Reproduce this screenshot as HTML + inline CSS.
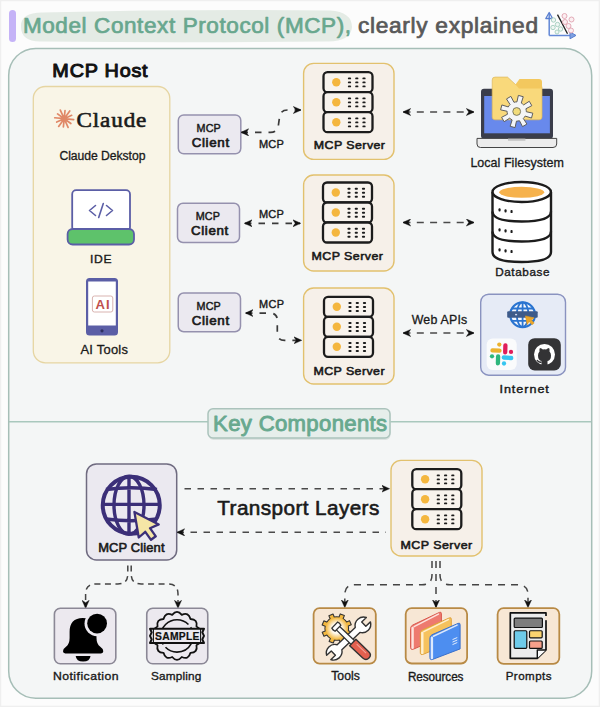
<!DOCTYPE html>
<html><head><meta charset="utf-8">
<style>
html,body{margin:0;padding:0;background:#fcfcfc;}
body{width:600px;height:707px;overflow:hidden;}
svg{display:block;}
</style></head><body>
<svg width="600" height="707" viewBox="0 0 600 707">
<defs>
  <marker id="ah" viewBox="0 0 10 10" refX="9" refY="5" markerWidth="8" markerHeight="8" orient="auto-start-reverse" markerUnits="userSpaceOnUse">
    <path d="M0,0.5 L10,5 L0,9.5 L3,5 Z" fill="#111" stroke="#111" stroke-width="0.5" stroke-linejoin="round"/>
  </marker>
  <g id="srv">
    <rect x="0" y="0" width="49" height="20" rx="4" fill="#f8f3ed" stroke="#1c1c1c" stroke-width="2.3"/>
    <circle cx="12.8" cy="10" r="4.2" fill="#f4b63e"/>
    <g fill="#1c1c1c">

      <rect x="24.40" y="5.25" width="3.2" height="1.9" rx="0.9"/>
      <rect x="24.40" y="9.25" width="3.2" height="1.9" rx="0.9"/>
      <rect x="24.40" y="13.25" width="3.2" height="1.9" rx="0.9"/>
      <rect x="31.70" y="5.25" width="3.2" height="1.9" rx="0.9"/>
      <rect x="31.70" y="9.25" width="3.2" height="1.9" rx="0.9"/>
      <rect x="31.70" y="13.25" width="3.2" height="1.9" rx="0.9"/>
      <rect x="38.90" y="5.25" width="3.2" height="1.9" rx="0.9"/>
      <rect x="38.90" y="9.25" width="3.2" height="1.9" rx="0.9"/>
      <rect x="38.90" y="13.25" width="3.2" height="1.9" rx="0.9"/>
    </g>
  </g>
  <g id="server">
    <use href="#srv" x="0" y="0"/>
    <use href="#srv" x="0" y="20"/>
    <use href="#srv" x="0" y="40"/>
  </g>
</defs>
<rect x="0.5" y="0.5" width="599" height="706" fill="none" stroke="#efefef" stroke-width="1.5"/>

<rect x="9" y="10" width="7" height="32" rx="3.5" fill="#c5b3f7"/>
<path d="M21,27 Q20,13 42,12.5 Q190,9 330,10.5 Q352,12 352,27 Q351,41 328,41.5 Q190,43 40,41.5 Q21,41 21,27 Z" fill="#e4ebe5"/>
<text transform="translate(22.93,33.40) scale(1.0534,1)" x="0" y="0" style="font-family:'Liberation Sans',sans-serif;font-weight:normal" font-size="21.37" fill="#68a78e" stroke="#68a78e" stroke-width="0.7" stroke-linejoin="round" textLength="311.50" lengthAdjust="spacing" >Model Context Protocol (MCP),</text>
<text transform="translate(357.93,33.40) scale(1.0638,1)" x="0" y="0" style="font-family:'Liberation Sans',sans-serif;font-weight:normal" font-size="21.37" fill="#595959" stroke="#595959" stroke-width="0.7" stroke-linejoin="round" textLength="169.33" lengthAdjust="spacing" >clearly explained</text>
<g>
  <path d="M549.2,35.4 L549.2,13.5 M575,35.4 L549.2,35.4" stroke="#6388d6" stroke-width="1.5" fill="none"/>
  <path d="M545.8,18.5 L549.2,12.5 L552.6,18.5 Z" fill="none" stroke="#5a7fd0" stroke-width="1.3" stroke-linejoin="round"/>
  <path d="M570,32 L576,35.4 L570,38.8 Z" fill="#7ea0e0" stroke="#5a7fd0" stroke-width="1" stroke-linejoin="round"/>
  <path d="M557.5,14.6 L567.5,33.7" stroke="#222" stroke-width="1.3"/>
  <g fill="#eef6f2" stroke="#a3cdbd" stroke-width="0.9">
    <circle cx="553.5" cy="20" r="2.2"/><circle cx="557.5" cy="24.5" r="2.2"/><circle cx="553" cy="27.5" r="2.2"/><circle cx="560.5" cy="29" r="2.2"/><circle cx="557" cy="32" r="2"/>
  </g>
  <g fill="#fbeef1" stroke="#e0a3b0" stroke-width="0.9">
    <circle cx="564.5" cy="16" r="2.5"/><circle cx="571.5" cy="19.5" r="2.5"/><circle cx="565" cy="22" r="2.5"/><circle cx="568.5" cy="26" r="2.5"/><circle cx="571" cy="30.5" r="2.5"/>
  </g>
</g>
<rect x="8.7" y="48.4" width="583" height="649.8" rx="27" fill="#f4f6f6" stroke="#a6beb7" stroke-width="1.5"/>
<text transform="translate(52.36,76.70) scale(1.0591,1)" x="0" y="0" style="font-family:'Liberation Sans',sans-serif;font-weight:normal" font-size="18.72" fill="#111" stroke="#111" stroke-width="1.0" stroke-linejoin="round" textLength="89.95" lengthAdjust="spacing" >MCP Host</text>
<rect x="33.3" y="86.5" width="136.5" height="276.3" rx="12" fill="#f9f5e7" stroke="#e6d5a2" stroke-width="1.3"/>
<g transform="translate(64.2,118.7)" stroke="#e08867" stroke-width="1.7" stroke-linecap="round"><path d="M0,0 L9.45,0.95 M0,0 L6.66,4.79 M0,0 L3.90,8.66 M0,0 L-0.82,8.16 M0,0 L-5.55,7.71 M0,0 L-7.48,3.37 M0,0 L-9.45,-0.95 M0,0 L-6.66,-4.79 M0,0 L-3.90,-8.66 M0,0 L0.82,-8.16 M0,0 L5.55,-7.71 M0,0 L7.48,-3.37"/></g>
<text transform="translate(76.42,126.70) scale(1.0674,1)" x="0" y="0" style="font-family:'Liberation Serif',serif;font-weight:normal" font-size="21.68" fill="#1a1a1a" stroke="#1a1a1a" stroke-width="0.6" stroke-linejoin="round" textLength="65.55" lengthAdjust="spacing" >Claude</text>
<text transform="translate(59.39,159.90) scale(0.9918,1)" x="0" y="0" style="font-family:'Liberation Sans',sans-serif;font-weight:normal" font-size="12.29" fill="#1a1a1a" stroke="#1a1a1a" stroke-width="0.3" stroke-linejoin="round" textLength="86.74" lengthAdjust="spacing" >Claude Dekstop</text>
<rect x="72.2" y="190.2" width="57.8" height="41" rx="4" fill="#fff" stroke="#5b5ea6" stroke-width="1.8"/>
<path d="M95.5,205.5 L89.5,210.5 L95.5,215.5 M106.5,205.5 L112.5,210.5 L106.5,215.5 M103.3,203.5 L98.7,217.5" fill="none" stroke="#5b5ea6" stroke-width="1.6" stroke-linecap="round" stroke-linejoin="round"/>
<rect x="67.6" y="229" width="66.4" height="15.5" rx="5" fill="#5ec26b" stroke="#5b5ea6" stroke-width="1.8"/>
<text transform="translate(89.93,262.80) scale(1.0710,1)" x="0" y="0" style="font-family:'Liberation Sans',sans-serif;font-weight:normal" font-size="11.31" fill="#1a1a1a" stroke="#1a1a1a" stroke-width="0.35" stroke-linejoin="round" textLength="20.20" lengthAdjust="spacing" >IDE</text>
<rect x="86" y="278" width="32" height="57.4" rx="3.5" fill="#5b5ea6"/>
<rect x="88.2" y="281.5" width="27.6" height="44" fill="#fff"/>
<circle cx="102" cy="330.8" r="1.6" fill="#2e2f60"/>
<rect x="92.4" y="296" width="20.4" height="16" rx="2" fill="#fff" stroke="#d9b3b0" stroke-width="1"/>
<text transform="translate(95.40,308.60) scale(1.0873,1)" x="0" y="0" style="font-family:'Liberation Sans',sans-serif;font-weight:bold" font-size="12.01" fill="#c0504d" textLength="13.06" lengthAdjust="spacing" >AI</text>
<text transform="translate(80.38,354.20) scale(1.0396,1)" x="0" y="0" style="font-family:'Liberation Sans',sans-serif;font-weight:normal" font-size="12.43" fill="#1a1a1a" stroke="#1a1a1a" stroke-width="0.3" stroke-linejoin="round" textLength="45.73" lengthAdjust="spacing" >AI Tools</text>
<rect x="178.3" y="114.9" width="62.5" height="38.9" rx="5.5" fill="#ebe9f0" stroke="#9591ae" stroke-width="1.5"/>
<rect x="177.5" y="203.25" width="62" height="39.25" rx="5.5" fill="#ebe9f0" stroke="#9591ae" stroke-width="1.5"/>
<rect x="178.25" y="293" width="62.25" height="38.75" rx="5.5" fill="#ebe9f0" stroke="#9591ae" stroke-width="1.5"/>
<text transform="translate(196.47,131.60) scale(1.0163,1)" x="0" y="0" style="font-family:'Liberation Sans',sans-serif;font-weight:normal" font-size="10.61" fill="#1a1a1a" stroke="#1a1a1a" stroke-width="0.45" stroke-linejoin="round" textLength="23.97" lengthAdjust="spacing" >MCP</text>
<text transform="translate(191.69,146.75) scale(1.0944,1)" x="0" y="0" style="font-family:'Liberation Sans',sans-serif;font-weight:normal" font-size="12.22" fill="#1a1a1a" stroke="#1a1a1a" stroke-width="0.65" stroke-linejoin="round" textLength="34.19" lengthAdjust="spacing" >Client</text>
<text transform="translate(195.67,220.00) scale(1.0163,1)" x="0" y="0" style="font-family:'Liberation Sans',sans-serif;font-weight:normal" font-size="10.61" fill="#1a1a1a" stroke="#1a1a1a" stroke-width="0.45" stroke-linejoin="round" textLength="23.97" lengthAdjust="spacing" >MCP</text>
<text transform="translate(190.89,235.00) scale(1.0944,1)" x="0" y="0" style="font-family:'Liberation Sans',sans-serif;font-weight:normal" font-size="12.22" fill="#1a1a1a" stroke="#1a1a1a" stroke-width="0.65" stroke-linejoin="round" textLength="34.19" lengthAdjust="spacing" >Client</text>
<text transform="translate(196.47,309.50) scale(1.0163,1)" x="0" y="0" style="font-family:'Liberation Sans',sans-serif;font-weight:normal" font-size="10.61" fill="#1a1a1a" stroke="#1a1a1a" stroke-width="0.45" stroke-linejoin="round" textLength="23.97" lengthAdjust="spacing" >MCP</text>
<text transform="translate(191.69,325.00) scale(1.0944,1)" x="0" y="0" style="font-family:'Liberation Sans',sans-serif;font-weight:normal" font-size="12.22" fill="#1a1a1a" stroke="#1a1a1a" stroke-width="0.65" stroke-linejoin="round" textLength="34.19" lengthAdjust="spacing" >Client</text>
<g fill="none" stroke="#3a3a3a" stroke-width="1.7" stroke-dasharray="6.5 7">
<path d="M241.5,132.3 L270.5,132.3 Q278,132.3 278.5,124.5 L279.5,117.5 Q280.2,110 287.5,110 L300.5,110" marker-start="url(#ah)" marker-end="url(#ah)"/>
<path d="M245,223.3 L300,223.3" marker-start="url(#ah)" marker-end="url(#ah)"/>
<path d="M246,313.1 L270,313.1 Q277.3,313.1 277.3,320.4 L277.3,333 Q277.3,340.35 284.6,340.35 L301,340.35" marker-start="url(#ah)" marker-end="url(#ah)"/>
</g>
<text transform="translate(258.96,148.00) scale(1.0119,1)" x="0" y="0" style="font-family:'Liberation Sans',sans-serif;font-weight:normal" font-size="10.89" fill="#1a1a1a" stroke="#1a1a1a" stroke-width="0.4" stroke-linejoin="round" textLength="24.50" lengthAdjust="spacing" >MCP</text>
<text transform="translate(258.96,217.50) scale(1.0119,1)" x="0" y="0" style="font-family:'Liberation Sans',sans-serif;font-weight:normal" font-size="10.89" fill="#1a1a1a" stroke="#1a1a1a" stroke-width="0.4" stroke-linejoin="round" textLength="24.50" lengthAdjust="spacing" >MCP</text>
<text transform="translate(258.97,307.90) scale(1.0287,1)" x="0" y="0" style="font-family:'Liberation Sans',sans-serif;font-weight:normal" font-size="10.61" fill="#1a1a1a" stroke="#1a1a1a" stroke-width="0.4" stroke-linejoin="round" textLength="24.27" lengthAdjust="spacing" >MCP</text>
<rect x="303.6" y="63.4" width="90.4" height="96" rx="10" fill="#f6f0e9" stroke="#e2c16e" stroke-width="1.4"/>
<rect x="303.6" y="175" width="90.4" height="96" rx="10" fill="#f6f0e9" stroke="#e2c16e" stroke-width="1.4"/>
<rect x="303.6" y="288" width="90.4" height="96" rx="10" fill="#f6f0e9" stroke="#e2c16e" stroke-width="1.4"/>
<use href="#server" x="323.5" y="72.2"/>
<use href="#server" x="323" y="182.5"/>
<use href="#server" x="324" y="296.8"/>
<text transform="translate(313.81,149.40) scale(1.0572,1)" x="0" y="0" style="font-family:'Liberation Sans',sans-serif;font-weight:normal" font-size="11.73" fill="#1a1a1a" stroke="#1a1a1a" stroke-width="0.6" stroke-linejoin="round" textLength="67.32" lengthAdjust="spacing" >MCP Server</text>
<text transform="translate(311.41,260.20) scale(1.0602,1)" x="0" y="0" style="font-family:'Liberation Sans',sans-serif;font-weight:normal" font-size="11.73" fill="#1a1a1a" stroke="#1a1a1a" stroke-width="0.6" stroke-linejoin="round" textLength="67.51" lengthAdjust="spacing" >MCP Server</text>
<text transform="translate(313.41,375.20) scale(1.0572,1)" x="0" y="0" style="font-family:'Liberation Sans',sans-serif;font-weight:normal" font-size="11.73" fill="#1a1a1a" stroke="#1a1a1a" stroke-width="0.6" stroke-linejoin="round" textLength="67.32" lengthAdjust="spacing" >MCP Server</text>
<g fill="none" stroke="#4a4a4a" stroke-width="1.7" stroke-dasharray="7 6.3">
<path d="M403.5,112 L410.5,112 L473.5,112" marker-start="url(#ah)" marker-end="url(#ah)" stroke-dashoffset="0"/>
<path d="M403.5,222.5 L410.5,222.5 L473.5,222.5" marker-start="url(#ah)" marker-end="url(#ah)" stroke-dashoffset="0"/>
<path d="M403.5,333 L410.5,333 L473.5,333" marker-start="url(#ah)" marker-end="url(#ah)" stroke-dashoffset="0"/>
</g>
<text transform="translate(411.70,324.00) scale(1.0289,1)" x="0" y="0" style="font-family:'Liberation Sans',sans-serif;font-weight:normal" font-size="12.01" fill="#1a1a1a" stroke="#1a1a1a" stroke-width="0.3" stroke-linejoin="round" textLength="54.04" lengthAdjust="spacing" >Web APIs</text>
<rect x="481" y="88.7" width="72" height="50" rx="3" fill="#3a3d4a"/>
<rect x="484.2" y="96" width="65.7" height="37.3" fill="#6889ec"/>
<path d="M477,138.4 L556.7,138.4 L556.7,144 Q556.7,147.5 553,147.5 L480.5,147.5 Q477,147.5 477,144 Z" fill="#ececec" stroke="#444" stroke-width="1"/>
<rect x="508" y="138.6" width="17.4" height="2.2" fill="#c4c4c4"/>
<path d="M492.2,80 Q492.2,77.1 495,77.1 L507.5,77.1 L515.5,84.5 L539,84.5 Q542,84.5 542,87.5 L542,117 Q542,119.8 539,119.8 L495,119.8 Q492.2,119.8 492.2,117 Z" fill="#f9d97b" stroke="#dcb75e" stroke-width="0.7"/>
<path d="M515.5,84.5 L519.5,79 L539,79 Q542,79 542,82 L542,88.5 L519,88.5 Z" fill="#f3c85e"/>
<g transform="translate(516.7,111.5)">
  <path d="M-1.27,-9.52 L0.23,-9.60 L1.66,-16.11 L6.56,-14.81 L4.57,-8.44 L5.83,-7.63 L6.95,-6.62 L12.57,-10.22 L15.11,-5.83 L9.20,-2.74 L9.52,-1.27 L9.60,0.23 L16.11,1.66 L14.81,6.56 L8.44,4.57 L7.63,5.83 L6.62,6.95 L10.22,12.57 L5.83,15.11 L2.74,9.20 L1.27,9.52 L-0.23,9.60 L-1.66,16.11 L-6.56,14.81 L-4.57,8.44 L-5.83,7.63 L-6.95,6.62 L-12.57,10.22 L-15.11,5.83 L-9.20,2.74 L-9.52,1.27 L-9.60,-0.23 L-16.11,-1.66 L-14.81,-6.56 L-8.44,-4.57 L-7.63,-5.83 L-6.62,-6.95 L-10.22,-12.57 L-5.83,-15.11 L-2.74,-9.20 Z" fill="#f4f5f6" stroke="#5f5f5f" stroke-width="1" stroke-linejoin="round"/>
  <circle r="3.9" fill="#f2dc7a" stroke="#6f6f5f" stroke-width="0.9"/>
</g>
<text transform="translate(470.38,167.30) scale(1.0053,1)" x="0" y="0" style="font-family:'Liberation Sans',sans-serif;font-weight:normal" font-size="12.43" fill="#1a1a1a" stroke="#1a1a1a" stroke-width="0.3" stroke-linejoin="round" textLength="93.05" lengthAdjust="spacing" >Local Filesystem</text>
<g fill="none" stroke="#1c1c1c" stroke-width="2.4">
  <path d="M492.5,192 L492.5,252 Q492.5,262 521.7,262 Q551,262 551,252 L551,192" fill="#fff"/>
  <path d="M492.5,211.5 Q492.5,221.5 521.7,221.5 Q551,221.5 551,211.5"/>
  <path d="M492.5,231.5 Q492.5,241.5 521.7,241.5 Q551,241.5 551,231.5"/>
  <ellipse cx="521.7" cy="192" rx="29.2" ry="10" fill="#fff"/>
</g>
<ellipse cx="521.7" cy="192.3" rx="22.5" ry="5.5" fill="#f6b24c"/>
<g fill="#1c1c1c">
<rect x="498.5" y="208.3" width="2.1" height="3.2" rx="0.9"/>
<rect x="504.5" y="209.3" width="2.1" height="3.2" rx="0.9"/>
<rect x="510.5" y="209.9" width="2.1" height="3.2" rx="0.9"/>
<rect x="498.5" y="228.3" width="2.1" height="3.2" rx="0.9"/>
<rect x="504.5" y="229.3" width="2.1" height="3.2" rx="0.9"/>
<rect x="510.5" y="229.9" width="2.1" height="3.2" rx="0.9"/>
<rect x="498.5" y="248.3" width="2.1" height="3.2" rx="0.9"/>
<rect x="504.5" y="249.3" width="2.1" height="3.2" rx="0.9"/>
<rect x="510.5" y="249.9" width="2.1" height="3.2" rx="0.9"/>
</g>
<text transform="translate(495.16,276.00) scale(1.0799,1)" x="0" y="0" style="font-family:'Liberation Sans',sans-serif;font-weight:normal" font-size="10.89" fill="#1a1a1a" stroke="#1a1a1a" stroke-width="0.35" stroke-linejoin="round" textLength="50.36" lengthAdjust="spacing" >Database</text>
<rect x="480.7" y="294.2" width="84.8" height="81" rx="8" fill="#e6ebf6" stroke="#8a93c0" stroke-width="1.4"/>
<g transform="translate(522.6,314.7)">
  <circle r="12.4" fill="#f4f7fd" stroke="#2a74d0" stroke-width="2.2"/>
  <ellipse rx="5.8" ry="12.4" fill="none" stroke="#2a74d0" stroke-width="1.8"/>
  <path d="M0,-12.4 L0,12.4 M-12.4,0 L12.4,0 M-10.8,-6.2 L10.8,-6.2 M-10.8,6.2 L10.8,6.2" stroke="#2a74d0" stroke-width="1.8"/>
  <rect x="-15.4" y="-3.4" width="30.5" height="6.5" rx="1" fill="#3e5b8a"/>
  <rect x="-7.5" y="-0.8" width="2" height="1.4" fill="#cfd8ee"/>
  <path d="M2.8,1.2 L11.5,3.2 L8.8,5.3 L11.6,8.4 L9.4,10 L6.6,6.9 L4.6,9.8 Z" fill="#eaa62a" stroke="#e39a1c" stroke-width="0.6" stroke-linejoin="round"/>
</g>
<rect x="486.7" y="338.5" width="30" height="31.5" rx="6" fill="#fafbfc"/>
<g stroke-linecap="round" stroke-width="4.3" fill="none">
  <path d="M492.5,350.3 L499.5,350.7" stroke="#ecb22e"/>
  <path d="M499.3,344.6 L499.3,344.6" stroke="#ecb22e"/>
  <path d="M505.4,345.3 L505.2,352.3" stroke="#e01e5a"/>
  <path d="M511,351.9 L511,351.9" stroke="#e01e5a"/>
  <path d="M498.1,356.5 L497.9,363.3" stroke="#2eb67d"/>
  <path d="M492,356.3 L492,356.3" stroke="#2eb67d"/>
  <path d="M503.8,357.5 L511.2,358" stroke="#36c5f0"/>
  <path d="M504,363.5 L504,363.5" stroke="#36c5f0"/>
</g>
<rect x="528.2" y="338.2" width="32.6" height="32.3" rx="6.5" fill="#333335"/>
<g transform="translate(544.5,354.5)">
  <circle r="10.5" fill="#fff"/>
  <path d="M-3,10.5 L-3,6.5 Q-6.5,5.8 -6.5,1 Q-6.5,-1.3 -5,-3 Q-5.4,-5 -4.6,-6.5 Q-3,-6.5 -1.6,-5 Q0,-5.5 1.6,-5 Q3,-6.5 4.6,-6.5 Q5.4,-5 5,-3 Q6.5,-1.3 6.5,1 Q6.5,5.8 3,6.5 L3,10.5 Z" fill="#333335"/>
  <path d="M-3,7.5 Q-6,8.2 -7.5,5.5" stroke="#333335" stroke-width="1.5" fill="none"/>
</g>
<text transform="translate(499.46,392.70) scale(1.1562,1)" x="0" y="0" style="font-family:'Liberation Sans',sans-serif;font-weight:normal" font-size="10.89" fill="#1a1a1a" stroke="#1a1a1a" stroke-width="0.4" stroke-linejoin="round" textLength="42.72" lengthAdjust="spacing" >Internet</text>
<path d="M9,421.7 L208,421.7 M390,421.7 L591,421.7" stroke="#a9c8bd" stroke-width="1.4"/>
<rect x="208.5" y="410.2" width="182" height="29.8" rx="5" fill="#dde3e1"/>
<rect x="208" y="408.7" width="182" height="29.3" rx="5" fill="#e6eeeb" stroke="#abc3bc" stroke-width="1.5"/>
<text transform="translate(213.12,430.80) scale(1.0235,1)" x="0" y="0" style="font-family:'Liberation Sans',sans-serif;font-weight:normal" font-size="21.65" fill="#68a98f" stroke="#68a98f" stroke-width="0.9" stroke-linejoin="round" textLength="169.97" lengthAdjust="spacing" >Key Components</text>
<rect x="86.5" y="463.9" width="90.2" height="96" rx="10" fill="#ebe9f0" stroke="#6f6b80" stroke-width="1.5"/>
<circle cx="131.25" cy="505.3" r="28.5" fill="none" stroke="#3b2f78" stroke-width="4"/>
<g fill="none" stroke="#3b2f78" stroke-width="3.4">
  <ellipse cx="129" cy="505.3" rx="15" ry="29"/>
  <path d="M129,476.5 L129,534 M103,504.4 L160,504.4 M106,489.5 Q131,486 157,489.5 M106,519 Q131,522.5 157,519"/>
</g>
<path d="M134.4,511.9 L158.75,524.4 L150,528.2 L155.8,536.3 L151,539.8 L145.3,531.8 L138.75,537.5 Z" fill="#f5e6a6" stroke="#3b2f78" stroke-width="2.3" stroke-linejoin="round"/>
<text transform="translate(98.16,551.90) scale(1.0180,1)" x="0" y="0" style="font-family:'Liberation Sans',sans-serif;font-weight:normal" font-size="12.71" fill="#1a1a1a" stroke="#1a1a1a" stroke-width="0.6" stroke-linejoin="round" textLength="65.20" lengthAdjust="spacing" >MCP Client</text>
<g fill="none" stroke="#4a4a4a" stroke-width="1.5" stroke-dasharray="6.5 6.5">
<path d="M184.5,488.7 L388.8,488.7" marker-end="url(#ah)"/>
<path d="M177.5,532.3 L386,532.3" marker-start="url(#ah)"/>
</g>
<text transform="translate(217.30,515.00) scale(1.0384,1)" x="0" y="0" style="font-family:'Liberation Sans',sans-serif;font-weight:normal" font-size="19.97" fill="#1a1a1a" stroke="#1a1a1a" stroke-width="0.6" stroke-linejoin="round" textLength="156.00" lengthAdjust="spacing" >Transport Layers</text>
<rect x="391" y="460.4" width="91" height="95.6" rx="10" fill="#f6f0e9" stroke="#e2c16e" stroke-width="1.4"/>
<use href="#server" x="412.3" y="469.2"/>
<text transform="translate(400.41,549.00) scale(1.0617,1)" x="0" y="0" style="font-family:'Liberation Sans',sans-serif;font-weight:normal" font-size="11.73" fill="#1a1a1a" stroke="#1a1a1a" stroke-width="0.6" stroke-linejoin="round" textLength="67.60" lengthAdjust="spacing" >MCP Server</text>
<g fill="none" stroke="#444" stroke-width="1.5" stroke-dasharray="6 4.5">
<path d="M127.8,565.5 L127.8,574 Q127.8,584 117.8,584 L95.6,584 Q85.6,584 85.6,594 L85.6,607.5" marker-end="url(#ah)"/>
<path d="M131.2,565.5 L131.2,574 Q131.2,584 141.2,584 L168,584 Q178,584 178,594 L178,607.5" marker-end="url(#ah)"/>
</g>
<g fill="none" stroke="#444" stroke-width="1.5" stroke-dasharray="7 6">
<path d="M432,561 L432,575 Q432,584.8 422,584.8 L354.8,584.8 Q344.8,584.8 344.8,594.5 L344.8,607" marker-end="url(#ah)"/>
<path d="M436,561 L436,607" marker-end="url(#ah)"/>
<path d="M440,561 L440,575 Q440,584.8 450,584.8 L518,584.8 Q528,584.8 528,594.5 L528,607" marker-end="url(#ah)"/>
</g>
<g fill="#ece9ef" stroke="#8b8896" stroke-width="1.6">
  <rect x="54.4" y="608.2" width="61.4" height="55.6" rx="6"/>
  <rect x="146.75" y="608.2" width="61" height="55.6" rx="6"/>
</g>
<path d="M63,651.3 Q63,648.8 66,646.8 Q69.6,644 69.6,638 L69.6,632 Q69.6,618 82.8,618 Q96.5,618 96.5,632 L96.5,638 Q96.5,644 100.3,646.8 Q103.3,648.8 103.3,651.3 Q103.3,653.4 101,653.4 L65.3,653.4 Q63,653.4 63,651.3 Z" fill="#000"/>
<path d="M75.7,656 L90.5,656 Q90,661.5 83.1,661.5 Q76.2,661.5 75.7,656 Z" fill="#000"/>
<circle cx="97.1" cy="623.6" r="12.6" fill="#ece9ef"/>
<circle cx="97.1" cy="623.6" r="9.9" fill="#000"/>
<g transform="translate(177,635.9)">
  <path d="M4.81,-21.06 Q11.63,-24.15 13.47,-16.89 Q20.95,-16.71 19.46,-9.37 Q26.13,-5.96 21.60,0.00 Q26.13,5.96 19.46,9.37 Q20.95,16.71 13.47,16.89 Q11.63,24.15 4.81,21.06 Q0.00,26.80 -4.81,21.06 Q-11.63,24.15 -13.47,16.89 Q-20.95,16.71 -19.46,9.37 Q-26.13,5.96 -21.60,0.00 Q-26.13,-5.96 -19.46,-9.37 Q-20.95,-16.71 -13.47,-16.89 Q-11.63,-24.15 -4.81,-21.06 Q-0.00,-26.80 4.81,-21.06 Z" fill="#ece9ef" stroke="#111" stroke-width="1.8" stroke-linejoin="round"/>
  <circle r="16.2" fill="none" stroke="#111" stroke-width="1.6" stroke-dasharray="30 3.5 47 3.5" stroke-dashoffset="-8"/>
  <path d="M-27,-7.1 L27,-7.1 L25.3,-3.5 L27,0 L25.3,3.5 L27,7.1 L-27,7.1 L-25.3,3.5 L-27,0 L-25.3,-3.5 Z" fill="#ece9ef" stroke="#111" stroke-width="2" stroke-linejoin="round"/>
  <path d="M-23.6,-7 L-23.6,7 M23.6,-7 L23.6,7" fill="none" stroke="#111" stroke-width="1.1"/>
</g>
<text transform="translate(155.00,639.55) scale(1.0341,1)" x="0" y="0" style="font-family:'Liberation Sans',sans-serif;font-weight:bold" font-size="9.99" fill="#111" stroke="#111" stroke-width="0.2" stroke-linejoin="round" textLength="43.03" lengthAdjust="spacing" >SAMPLE</text>
<text transform="translate(52.93,679.60) scale(1.0829,1)" x="0" y="0" style="font-family:'Liberation Sans',sans-serif;font-weight:normal" font-size="11.31" fill="#1a1a1a" stroke="#1a1a1a" stroke-width="0.35" stroke-linejoin="round" textLength="60.60" lengthAdjust="spacing" >Notification</text>
<text transform="translate(151.12,680.00) scale(1.0188,1)" x="0" y="0" style="font-family:'Liberation Sans',sans-serif;font-weight:normal" font-size="11.59" fill="#1a1a1a" stroke="#1a1a1a" stroke-width="0.35" stroke-linejoin="round" textLength="49.24" lengthAdjust="spacing" >Sampling</text>
<g fill="#f7e7d5" stroke="#b88a45" stroke-width="1.8">
  <rect x="313.6" y="608.1" width="62.2" height="55.6" rx="6"/>
  <rect x="405.7" y="608.1" width="61.4" height="55.4" rx="6"/>
  <rect x="497.6" y="608.2" width="61.7" height="55.6" rx="6"/>
</g>
<defs><radialGradient id="gg"><stop offset="0.45" stop-color="#fffaf0"/><stop offset="1" stop-color="#f3b840"/></radialGradient></defs>
<g transform="translate(336.75,628.5)">
  <path d="M10.90,-4.52 L11.59,-2.21 L14.83,-2.23 L14.83,2.23 L11.59,2.21 L10.90,4.52 L9.76,6.63 L12.07,8.91 L8.91,12.07 L6.63,9.76 L4.52,10.90 L2.21,11.59 L2.23,14.83 L-2.23,14.83 L-2.21,11.59 L-4.52,10.90 L-6.63,9.76 L-8.91,12.07 L-12.07,8.91 L-9.76,6.63 L-10.90,4.52 L-11.59,2.21 L-14.83,2.23 L-14.83,-2.23 L-11.59,-2.21 L-10.90,-4.52 L-9.76,-6.63 L-12.07,-8.91 L-8.91,-12.07 L-6.63,-9.76 L-4.52,-10.90 L-2.21,-11.59 L-2.23,-14.83 L2.23,-14.83 L2.21,-11.59 L4.52,-10.90 L6.63,-9.76 L8.91,-12.07 L12.07,-8.91 L9.76,-6.63 Z" transform="rotate(22)" fill="#f3b840" stroke="#333" stroke-width="1.1" stroke-linejoin="round"/>
  <circle r="11" fill="url(#gg)"/>
</g>
<g transform="translate(348.55,638.6) rotate(-43.6)">
  <path d="M-12.5,-3.4 L12.5,-3.4 A8.6 8.6 0 0 1 27.4,-3 L21,-3 L21,3 L27.4,3 A8.6 8.6 0 0 1 12.5,3.4 L-12.5,3.4 A8.6 8.6 0 0 1 -27.4,3 L-21,3 L-21,-3 L-27.4,-3 A8.6 8.6 0 0 1 -12.5,-3.4 Z" fill="#fff" stroke="#333" stroke-width="1.4" stroke-linejoin="round"/>
</g>
<g transform="translate(336.2,626.5) rotate(43.9)">
  <path d="M0,-2.3 L25,-2.6 L25,2.6 L0,2.3 Z" fill="#fff" stroke="#333" stroke-width="1.3" stroke-linejoin="round"/>
  <path d="M-2,-4.2 Q0,-5 2.5,-4.2 L2.5,4.2 Q0,5 -2,4.2 Z" fill="#fff" stroke="#333" stroke-width="1.3"/>
  <path d="M23,-4.5 L41,-4.3 Q45.5,-4.3 45.5,0 Q45.5,4.3 41,4.3 L23,4.5 Z" fill="#e3604f" stroke="#333" stroke-width="1.4" stroke-linejoin="round"/>
  <path d="M27,-1.5 L40,-1.5" stroke="#f2a59a" stroke-width="1"/>
</g>
<g stroke-linejoin="round">
<path d="M410.6,628.5 Q410.6,626 412.8,625 L439.4,612.4 Q441.4,611.5 441.4,613.7 L441.4,637 L413.6,649.0999999999999 Q410.6,650.3 410.6,647.3 Z" fill="#ee7a6f" stroke="#d8574c" stroke-width="1"/>
<path d="M412.6,628 L412.6,647.8" stroke="#fde3de" stroke-width="2.4" stroke-linecap="round"/>
<path d="M414.1,626.6 L438.4,614.1" stroke="#fde3de" stroke-width="1.5" stroke-linecap="round"/>
<path d="M420.3,633.5 Q420.3,631 422.5,630 L449.3,617.9 Q451.3,617 451.3,619.2 L451.3,642.5 L423.3,654.3 Q420.3,655.5 420.3,652.5 Z" fill="#f6c25d" stroke="#dfa23c" stroke-width="1"/>
<path d="M422.3,633 L422.3,653.0" stroke="#fff0cf" stroke-width="2.4" stroke-linecap="round"/>
<path d="M423.8,631.6 L448.3,619.6" stroke="#fff0cf" stroke-width="1.5" stroke-linecap="round"/>
<path d="M429.9,638.2 Q429.9,635.7 432.09999999999997,634.7 L458.1,623.4 Q460.1,622.5 460.1,624.7 L460.1,648.9 L432.9,659.3 Q429.9,660.5 429.9,657.5 Z" fill="#4d8ef0" stroke="#3a70cc" stroke-width="1"/>
<path d="M431.9,637.7 L431.9,658.0" stroke="#dce9fd" stroke-width="2.4" stroke-linecap="round"/>
<path d="M433.4,636.3000000000001 L457.1,625.1" stroke="#dce9fd" stroke-width="1.5" stroke-linecap="round"/>
<path d="M452.5,639.6 L457.3,637.5 M452.5,642.1 L457.3,640 M452.5,644.6 L457.3,642.5" stroke="#e3edfd" stroke-width="1"/>
</g>
<path d="M510.3,612.8 L546,612.8 L546,650 L537.3,658.3 L510.3,658.3 Z" fill="#ececec" stroke="#111" stroke-width="1.7" stroke-linejoin="round"/>
<rect x="544.8" y="616" width="2.4" height="4.2" fill="#f7e7d5"/>
<path d="M537.3,658.3 L537.3,650 L546,650" fill="#fdfdfd" stroke="#111" stroke-width="1.4" stroke-linejoin="round"/>
<rect x="514.2" y="618.1" width="28.2" height="9.4" rx="1" fill="#7d7d7d" stroke="#111" stroke-width="1.2"/>
<rect x="514.2" y="630.75" width="12.6" height="17.6" rx="1" fill="#6ecbea" stroke="#111" stroke-width="1.2"/>
<rect x="529.5" y="630.75" width="12.7" height="7.1" rx="1" fill="#fbd36f" stroke="#111" stroke-width="1.2"/>
<rect x="529.5" y="641" width="12.7" height="7.4" rx="1" fill="#f7a08a" stroke="#111" stroke-width="1.2"/>
<text transform="translate(331.19,679.70) scale(1.0061,1)" x="0" y="0" style="font-family:'Liberation Sans',sans-serif;font-weight:normal" font-size="12.15" fill="#1a1a1a" stroke="#1a1a1a" stroke-width="0.35" stroke-linejoin="round" textLength="28.54" lengthAdjust="spacing" >Tools</text>
<text transform="translate(407.91,680.70) scale(0.9897,1)" x="0" y="0" style="font-family:'Liberation Sans',sans-serif;font-weight:normal" font-size="11.87" fill="#1a1a1a" stroke="#1a1a1a" stroke-width="0.35" stroke-linejoin="round" textLength="56.16" lengthAdjust="spacing" >Resources</text>
<text transform="translate(505.66,680.00) scale(1.0637,1)" x="0" y="0" style="font-family:'Liberation Sans',sans-serif;font-weight:normal" font-size="10.89" fill="#1a1a1a" stroke="#1a1a1a" stroke-width="0.35" stroke-linejoin="round" textLength="43.14" lengthAdjust="spacing" >Prompts</text>
</svg>
</body></html>
